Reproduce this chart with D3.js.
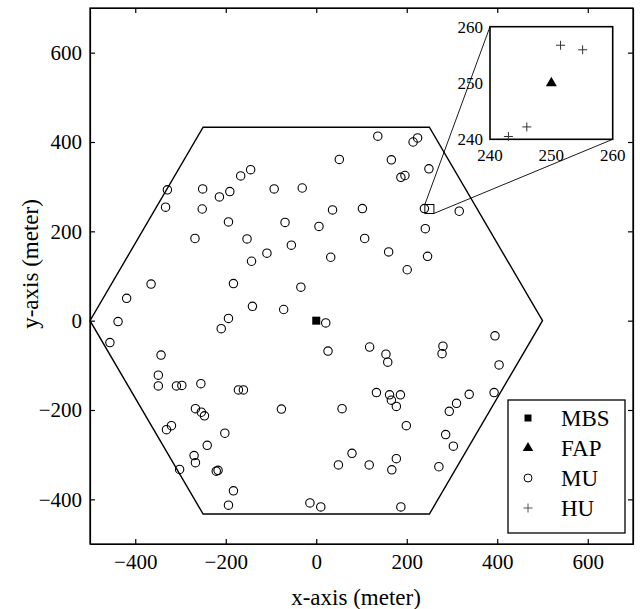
<!DOCTYPE html>
<html lang="en">
<head>
<meta charset="utf-8">
<title>Node layout</title>
<style>
body { margin: 0; background: #fff; }
svg, svg text { font-family: "Liberation Serif", "Times New Roman", serif; }
.axis path, .axis line { stroke: #000; stroke-width: 1.2; fill: none; }
.axis text { font-family: "Liberation Serif", "Times New Roman", serif; font-size: 21px; fill: #000; }
.inset text { font-size: 17px; fill: #000; }
.legend text { font-size: 23px; fill: #000; }
</style>
</head>
<body>
<script src="https://d3js.org/d3.v7.min.js"></script>
<script>

// tick labels
var xTicks = [-400, -200, 0, 200, 400, 600];
var yTicks = [-400, -200, 0, 200, 400, 600];
var insetTicks = [240, 250, 260];

// cell boundary (hexagon)
var hexX = [500, 250, -250, -500, -250, 250];
var hexY = [0, 433, 433, 0, -433, -433];

// base station and femto access point
var mbs = [0, 0];
var fap = [250, 250];

// macro users
var muX = [-329,-333,-251,-252,-214,-191,-167,-145,-194,-268,-153,-109,-143,-55,-69,-93,-31,6,-365,-419,
  -183,-34,-141,-72,-438,-194,-210,-456,136,214,224,51,166,249,187,196,36,102,239,316,107,241,32,160,246,201,
  -343,-349,-349,-309,-297,-255,-172,-161,-267,-254,-247,-77,-331,-320,-202,-241,-270,-267,-302,-221,
  -217,-183,-194,-14,10,21,26,118,154,158,280,278,395,404,393,338,310,294,133,162,166,186,177,57,199,286,303,
  79,49,117,177,167,271,187];
var muY = [293,254,295,250,277,289,324,338,221,184,183,151,133,169,220,295,297,211,82,50,
  83,75,32,25,-2,5,-18,-49,413,400,409,361,360,340,321,325,248,251,251,245,184,206,142,154,144,114,
  -77,-122,-146,-146,-145,-141,-155,-155,-197,-205,-213,-198,-244,-235,-252,-279,-302,-318,-333,-337,
  -335,-381,-413,-408,-417,-5,-68,-59,-75,-93,-57,-74,-34,-99,-161,-165,-185,-203,-161,-166,-178,-166,-192,
  -197,-235,-255,-281,-297,-323,-323,-309,-334,-327,-417];

// home users (zoomed view)
var huX = [251.5, 255.1, 246, 243];
var huY = [256.7, 255.9, 242.2, 240.5];

var legendNames = ["MBS", "FAP", "MU", "HU"];

var margin = {left: 90, top: 8},
    width = 543,
    height = 536;

var svg = d3.select("body").append("svg")
    .attr("width", 640)
    .attr("height", 609);

var g = svg.append("g")
    .attr("transform", "translate(" + margin.left + "," + margin.top + ")");

var x = d3.scaleLinear().domain([-500, 700]).range([0, width]);
var y = d3.scaleLinear().domain([-500, 700]).range([height, 0]);

// axes, ticks pointing inward
g.append("g").attr("class", "axis")
    .attr("transform", "translate(0," + height + ")")
    .call(d3.axisBottom(x).tickValues(xTicks).tickSize(-5).tickSizeOuter(0).tickPadding(10));
g.append("g").attr("class", "axis")
    .call(d3.axisTop(x).tickValues(xTicks).tickSize(-5).tickSizeOuter(0).tickFormat(""));
g.append("g").attr("class", "axis")
    .call(d3.axisLeft(y).tickValues(yTicks).tickSize(-5).tickSizeOuter(0).tickPadding(8));
g.append("g").attr("class", "axis")
    .attr("transform", "translate(" + width + ",0)")
    .call(d3.axisRight(y).tickValues(yTicks).tickSize(-5).tickSizeOuter(0).tickFormat(""));

g.selectAll(".axis").attr("font-family", null);

g.append("rect")
    .attr("width", width).attr("height", height)
    .attr("fill", "none").attr("stroke", "#000").attr("stroke-width", 1.3);

// hexagon
var hexPts = hexX.map(function(d, i) { return [x(d), y(hexY[i])]; });
g.append("path")
    .attr("d", d3.line()(hexPts) + "Z")
    .attr("fill", "none").attr("stroke", "#000").attr("stroke-width", 1.4);

// macro users
g.selectAll(".mu")
    .data(muX)
  .enter().append("circle")
    .attr("class", "mu")
    .attr("cx", function(d) { return x(d); })
    .attr("cy", function(d, i) { return y(muY[i]); })
    .attr("r", 4.2)
    .attr("fill", "none").attr("stroke", "#000").attr("stroke-width", 1.1);

// MBS
g.append("path")
    .attr("transform", "translate(" + x(mbs[0]) + "," + y(mbs[1]) + ")")
    .attr("d", d3.symbol(d3.symbolSquare, 64)());

// zoom box around the femtocell
var zoomLo = insetTicks[0], zoomHi = insetTicks[2];
g.append("rect")
    .attr("x", x(zoomLo)).attr("y", y(zoomHi))
    .attr("width", x(zoomHi) - x(zoomLo)).attr("height", y(zoomLo) - y(zoomHi))
    .attr("fill", "none").attr("stroke", "#000").attr("stroke-width", 1);

// inset
var inset = {left: 400, top: 18.7, width: 122.7, height: 112.6};
var ix = d3.scaleLinear().domain([zoomLo, zoomHi]).range([inset.left, inset.left + inset.width]);
var iy = d3.scaleLinear().domain([zoomLo, zoomHi]).range([inset.top + inset.height, inset.top]);

g.append("line")
    .attr("x1", x(zoomLo)).attr("y1", y(zoomHi))
    .attr("x2", ix(zoomLo)).attr("y2", iy(zoomHi))
    .attr("stroke", "#000").attr("stroke-width", 0.9);
g.append("line")
    .attr("x1", x(zoomHi)).attr("y1", y(zoomLo))
    .attr("x2", ix(zoomHi)).attr("y2", iy(zoomLo))
    .attr("stroke", "#000").attr("stroke-width", 0.9);

var ig = g.append("g").attr("class", "inset");
ig.append("rect")
    .attr("x", inset.left).attr("y", inset.top)
    .attr("width", inset.width).attr("height", inset.height)
    .attr("fill", "#fff").attr("stroke", "#000").attr("stroke-width", 1.6);

ig.selectAll(".iyl")
    .data(insetTicks)
  .enter().append("text")
    .attr("x", inset.left - 7)
    .attr("y", function(d) { return iy(d); })
    .attr("dy", "0.35em")
    .attr("text-anchor", "end")
    .text(function(d) { return d; });
ig.selectAll(".ixl")
    .data(insetTicks)
  .enter().append("text")
    .attr("x", function(d) { return ix(d); })
    .attr("y", inset.top + inset.height + 9)
    .attr("dy", "0.75em")
    .attr("text-anchor", "middle")
    .text(function(d) { return d; });

ig.append("path")
    .attr("transform", "translate(" + ix(fap[0]) + "," + iy(fap[1]) + ")")
    .attr("d", d3.symbol(d3.symbolTriangle, 52)());

ig.selectAll(".hu")
    .data(huX)
  .enter().append("path")
    .attr("transform", function(d, i) { return "translate(" + ix(d) + "," + iy(huY[i]) + ")"; })
    .attr("d", "M-4.5,0H4.5M0,-4.5V4.5")
    .attr("stroke", "#333").attr("stroke-width", 1);

// legend
var lg = g.append("g").attr("class", "legend")
    .attr("transform", "translate(418,392)");
lg.append("rect")
    .attr("width", 117).attr("height", 133)
    .attr("fill", "#fff").attr("stroke", "#000").attr("stroke-width", 1.3);

var rowY = d3.scalePoint().domain(legendNames).range([18, 108]);
var legendSym = {
  MBS: d3.symbol(d3.symbolSquare, 49)(),
  FAP: d3.symbol(d3.symbolTriangle, 48)(),
  MU: "M4,0A4,4 0 1,1 -4,0A4,4 0 1,1 4,0Z",
  HU: "M-4.5,0H4.5M0,-4.5V4.5"
};
legendNames.forEach(function(name) {
  var row = lg.append("g").attr("transform", "translate(20," + rowY(name) + ")");
  var p = row.append("path").attr("d", legendSym[name]);
  if (name == "MU") p.attr("fill", "none").attr("stroke", "#000").attr("stroke-width", 1);
  if (name == "HU") p.attr("fill", "none").attr("stroke", "#555").attr("stroke-width", 1);
  row.append("text").attr("x", 33).attr("dy", "0.35em").text(name);
});

// axis titles
svg.append("text")
    .attr("x", 356).attr("y", 597)
    .attr("dy", "0.35em")
    .attr("text-anchor", "middle")
    .style("font-size", "23px")
    .text("x-axis (meter)");
svg.append("text")
    .attr("transform", "translate(30,264) rotate(-90)")
    .attr("dy", "0.35em")
    .attr("text-anchor", "middle")
    .style("font-size", "23px")
    .text("y-axis (meter)");

</script>
</body>
</html>
